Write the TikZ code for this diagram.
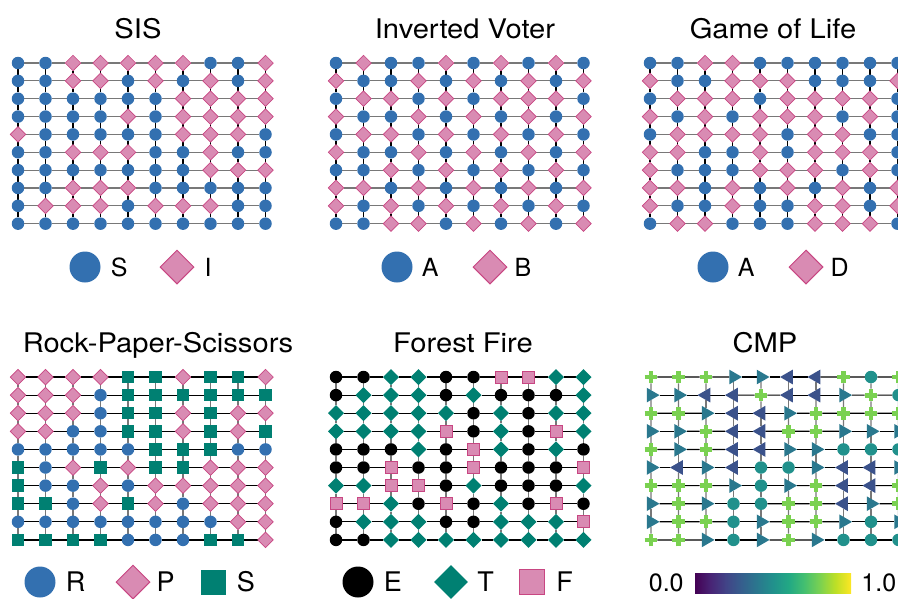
\documentclass[tikz,border=0pt]{standalone}
\usepackage{fontspec}
\setmainfont{TeX Gyre Heros}
\newfontfamily\widefont[FakeStretch=1.08]{TeX Gyre Heros}
\usetikzlibrary{shapes.geometric, shapes.misc, positioning, backgrounds}

\definecolor{sblue}{RGB}{51,112,176}
\definecolor{spink}{RGB}{217,139,179}
\definecolor{spinkdark}{RGB}{200,70,130}
\definecolor{steal}{RGB}{0,128,114}
\definecolor{edgegray}{RGB}{120,120,120}
\definecolor{cmpplus}{HTML}{7AD151}
\definecolor{cmpright}{HTML}{2A788E}
\definecolor{cmpleft}{HTML}{3B528B}
\definecolor{cmpcirc}{HTML}{21918C}
% viridis stops
\definecolor{vir0}{HTML}{440154}
\definecolor{vir1}{HTML}{482475}
\definecolor{vir2}{HTML}{414487}
\definecolor{vir3}{HTML}{355F8D}
\definecolor{vir4}{HTML}{2A788E}
\definecolor{vir5}{HTML}{21918C}
\definecolor{vir6}{HTML}{22A884}
\definecolor{vir7}{HTML}{44BF70}
\definecolor{vir8}{HTML}{7AD151}
\definecolor{vir9}{HTML}{BDDF26}
\definecolor{vir10}{HTML}{FDE725}
\pgfdeclarehorizontalshading{viridis}{100bp}{color(0bp)=(vir0); color(25bp)=(vir0);
  color(30bp)=(vir1); color(35bp)=(vir2); color(40bp)=(vir3); color(45bp)=(vir4);
  color(50bp)=(vir5); color(55bp)=(vir6); color(60bp)=(vir7); color(65bp)=(vir8);
  color(70bp)=(vir9); color(75bp)=(vir10); color(100bp)=(vir10)}

\tikzset{
  cell/.style={inner sep=0pt, outer sep=0pt},
  cellC/.style={cell, circle, fill=sblue, minimum size=12.5pt},
  cellD/.style={cell, diamond, fill=spink, draw=spinkdark, line width=0.7pt,
    minimum size=15.5pt},
  cellQ/.style={cell, rectangle, fill=steal, minimum size=12.5pt},
  cellE/.style={cell, circle, fill=black, minimum size=12.5pt},
  cellT/.style={cell, diamond, fill=steal, minimum size=16pt},
  cellF/.style={cell, rectangle, fill=spink, draw=spinkdark, line width=0.8pt,
    minimum size=12pt},
  cellP/.style={cell, cross out, draw=cmpplus, line width=4.8pt,
    minimum size=9pt, rotate=45},
  cellR/.style={cell, regular polygon, regular polygon sides=3,
    shape border rotate=-90, fill=cmpright, minimum size=17pt},
  cellL/.style={cell, regular polygon, regular polygon sides=3,
    shape border rotate=90, fill=cmpleft, minimum size=17pt},
  cellO/.style={cell, circle, fill=cmpcirc, minimum size=12.5pt},
  gridline/.style={line width=1.2pt},
  ptitle/.style={anchor=base, inner sep=0pt, font=\widefont\fontsize{27}{32}\selectfont},
  legtext/.style={inner sep=0pt, font=\fontsize{25}{30}\selectfont},
  legtextb/.style={inner sep=0pt, font=\fontsize{27}{32}\selectfont},
  legC/.style={circle, fill=sblue, minimum size=31pt, inner sep=0pt},
  legD/.style={diamond, fill=spink, draw=spinkdark, line width=1pt,
    minimum size=34pt, inner sep=0pt},
  legQ/.style={rectangle, fill=steal, minimum size=25pt, inner sep=0pt},
  legE/.style={circle, fill=black, minimum size=31pt, inner sep=0pt},
  legT/.style={diamond, fill=steal, minimum size=34pt, inner sep=0pt},
  legF/.style={rectangle, fill=spink, draw=spinkdark, line width=1.2pt,
    minimum size=25pt, inner sep=0pt},
  cbar/.style={shade, shading=viridis, minimum width=156pt,
    minimum height=20pt, inner sep=0pt},
}

% name, x0, y0, row step, row colour, column colour, states
\newcommand{\stategrid}[7]{%
  \foreach \row [count=\i] in {#7} {
    \foreach \s [count=\j] in \row {
      \node[cell\s] (#1-\i-\j) at ({#2+27.5*(\j-1)}, {#3+#4*(\i-1)}) {};
    }
  }
  \begin{scope}[on background layer]
    \foreach \i in {1,...,10} {
      \foreach \j [evaluate=\j as \k using int(\j+1)] in {1,...,9} {
        \draw[gridline, #5] (#1-\i-\j) -- (#1-\i-\k);
        \draw[gridline, #6] (#1-\j-\i) -- (#1-\k-\i);
      }
    }
  \end{scope}
}

\begin{document}
\begin{tikzpicture}[x=1pt, y=-1pt]
  \useasboundingbox (0,0) rectangle (898,598);

  % titles
  \node[ptitle] (sis-title) at (138,38) {SIS};
  \node[ptitle] (voter-title) at (465,38) {Inverted Voter};
  \node[ptitle] (life-title) at (773,38) {Game of Life};
  \node[ptitle] (rps-title) at (158,352) {Rock-Paper-Scissors};
  \node[ptitle] (fire-title) at (463,352) {Forest Fire};
  \node[ptitle] (cmp-title) at (765,352) {CMP};

  \stategrid{sis}{18}{63}{17.85}{edgegray}{black}{%
    {C,C,D,D,D,D,D,C,C,D},{C,C,D,D,C,D,C,D,C,D},{C,C,C,C,C,C,D,D,D,D},%
    {C,C,C,C,D,C,D,D,D,D},{D,C,C,C,C,C,D,D,D,C},{C,C,D,D,D,C,C,D,C,C},%
    {C,C,C,C,C,C,C,D,D,D},{C,C,D,D,D,C,C,C,C,C},{C,D,D,D,C,D,D,D,C,C},%
    {C,C,C,C,C,C,C,C,C,C}}
  \stategrid{voter}{336}{63}{17.85}{edgegray}{black}{%
    {C,D,C,C,D,C,D,C,D,C},{D,C,C,D,C,D,C,D,C,D},{C,D,D,C,D,C,D,D,D,C},%
    {D,C,C,D,C,D,C,D,C,D},{C,D,D,C,D,C,D,C,D,C},{D,C,C,D,C,D,C,D,C,D},%
    {C,C,D,C,D,C,D,C,D,C},{D,D,C,D,C,D,C,D,C,D},{D,C,D,C,D,C,D,C,D,C},%
    {C,C,D,D,C,D,C,D,C,D}}
  \stategrid{life}{650}{63}{17.85}{edgegray}{black}{%
    {C,C,D,D,C,C,C,C,C,C},{D,C,C,D,D,D,C,C,C,D},{C,D,D,D,C,D,D,D,D,C},%
    {D,C,D,C,D,D,D,C,D,C},{C,D,D,D,D,C,D,D,C,C},{D,D,C,C,D,C,D,D,D,C},%
    {D,C,C,C,D,D,D,C,D,C},{D,D,C,D,C,D,C,D,C,D},{D,C,C,D,C,C,D,D,C,D},%
    {C,D,D,C,C,C,D,D,D,C}}
  \stategrid{rps}{18}{377}{18.1}{black}{edgegray}{%
    {D,D,D,D,Q,Q,D,Q,Q,D},{D,D,D,C,Q,Q,Q,Q,Q,Q},{D,D,D,C,Q,Q,D,Q,D,D},%
    {D,D,C,C,Q,Q,D,Q,D,Q},{C,C,C,C,C,Q,Q,Q,C,C},{Q,C,D,Q,D,Q,Q,D,D,D},%
    {Q,C,C,D,C,D,D,D,D,D},{Q,Q,C,D,Q,D,C,D,D,D},{C,C,C,C,C,C,C,C,D,D},%
    {Q,Q,Q,Q,C,C,C,Q,Q,D}}
  \stategrid{fire}{336}{377}{18.1}{black}{edgegray}{%
    {E,E,T,T,E,E,F,F,T,T},{E,T,T,T,E,T,E,E,E,T},{T,T,T,T,T,E,T,E,T,T},%
    {T,T,T,T,F,E,T,E,F,T},{E,E,E,T,E,F,T,E,T,E},{E,E,F,E,E,F,E,E,E,F},%
    {T,T,F,F,E,T,E,E,E,T},{F,F,T,E,F,E,T,E,F,E},{E,T,T,T,E,E,T,T,T,F},%
    {E,E,T,T,T,T,T,T,T,T}}
  \stategrid{cmp}{651}{377}{18.1}{black}{edgegray}{%
    {P,P,P,R,R,L,L,P,O,P},{R,R,L,L,P,L,L,R,P,O},{P,P,R,L,L,R,P,P,P,P},%
    {R,R,P,L,L,P,P,R,R,R},{P,R,P,L,L,R,R,O,O,O},{R,L,R,L,O,O,R,L,L,R},%
    {P,P,P,R,O,R,P,L,L,P},{R,P,R,O,O,P,P,L,R,P},{R,P,P,O,R,P,P,R,O,R},%
    {P,P,R,O,R,P,R,O,O,O}}

  % legends
  \node[legC] (sis-lS) at (85,267) {};
  \node[legtext, right=10pt of sis-lS] (sis-tS) {S};
  \node[legD] (sis-lI) at (177,267) {};
  \node[legtext, right=10pt of sis-lI] (sis-tI) {I};

  \node[legC] (voter-lA) at (397,267) {};
  \node[legtext, right=9pt of voter-lA] (voter-tA) {A};
  \node[legD] (voter-lB) at (490,267) {};
  \node[legtext, right=7pt of voter-lB] (voter-tB) {B};

  \node[legC] (life-lA) at (713,267) {};
  \node[legtext, right=9pt of life-lA] (life-tA) {A};
  \node[legD] (life-lD) at (806,267) {};
  \node[legtext, right=7pt of life-lD] (life-tD) {D};

  \node[legC] (rps-lR) at (40,582) {};
  \node[legtextb, right=10pt of rps-lR] (rps-tR) {R};
  \node[legD] (rps-lP) at (133,582) {};
  \node[legtextb, right=6pt of rps-lP] (rps-tP) {P};
  \node[legQ] (rps-lS) at (213,582) {};
  \node[legtextb, right=11pt of rps-lS] (rps-tS) {S};

  \node[legE] (fire-lE) at (358,582) {};
  \node[legtextb, right=10pt of fire-lE] (fire-tE) {E};
  \node[legT] (fire-lT) at (451,582) {};
  \node[legtextb, right=9pt of fire-lT] (fire-tT) {T};
  \node[legF] (fire-lF) at (532,582) {};
  \node[legtextb, right=11pt of fire-lF] (fire-tF) {F};

  \node[cbar] (cmp-bar) at (773,583) {};
  \node[legtext, left=11pt of cmp-bar] (cmp-lo) {0.0};
  \node[legtext, right=10pt of cmp-bar] (cmp-hi) {1.0};
\end{tikzpicture}
\end{document}
